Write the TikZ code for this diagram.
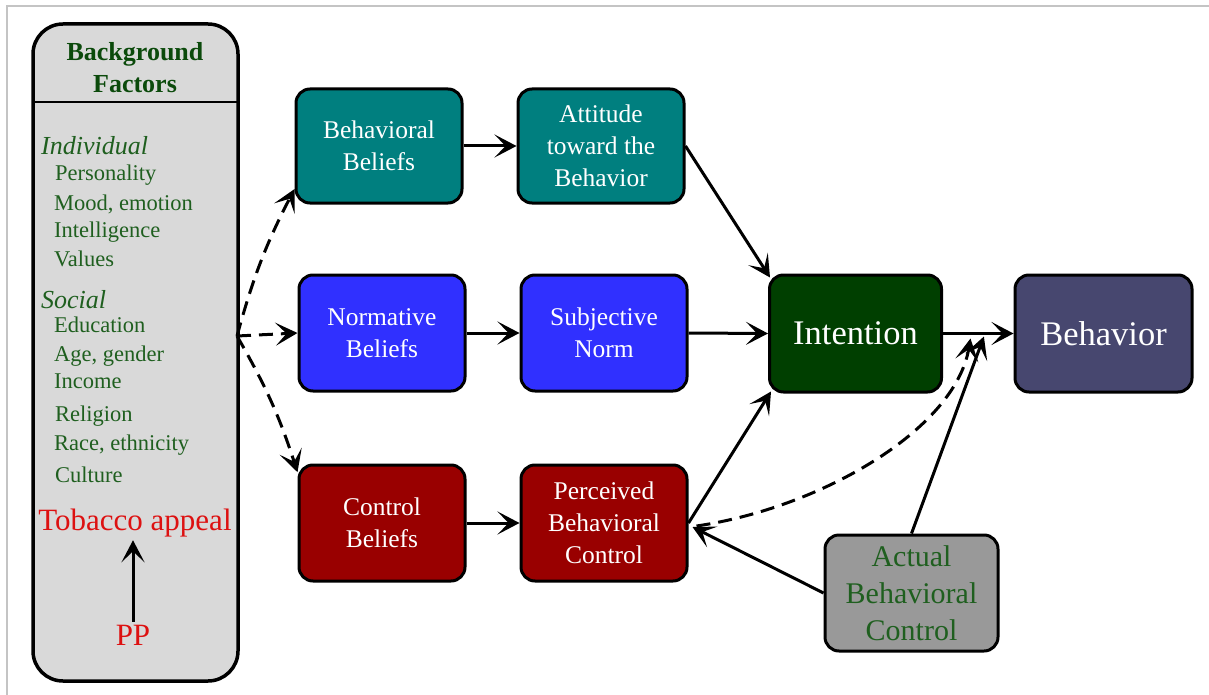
\documentclass[tikz,border=0pt]{standalone}
\usepackage{fontspec}
\setmainfont{Liberation Serif}
\usetikzlibrary{arrows.meta,calc}
\definecolor{cteal}{HTML}{007F7F}
\definecolor{cblue}{HTML}{3030FF}
\definecolor{cred}{HTML}{990000}
\definecolor{cdgreen}{HTML}{003F00}
\definecolor{cbeh}{HTML}{47476F}
\definecolor{cgray}{HTML}{999999}
\definecolor{cbg}{HTML}{D9D9D9}
\definecolor{ctitle}{HTML}{0B4A0B}
\definecolor{citem}{HTML}{1F5F1F}
\definecolor{cappeal}{HTML}{DD1111}
\definecolor{cframe}{HTML}{C4C4C4}
\tikzset{
  box/.style={draw=black, line width=3pt, rounded corners=14pt, text=white,
    align=center, inner sep=0pt, minimum width=166pt, minimum height=114pt,
    font=\fontsize{25.5}{32}\selectfont},
  bigbox/.style={box, minimum width=172pt, minimum height=117pt,
    font=\fontsize{34.5}{38}\selectfont},
  conn/.style={line width=3pt, -{Stealth[length=22pt,width=23pt,inset=11pt]}},
  dconn/.style={conn, dash pattern=on 14pt off 8pt},
  item/.style={anchor=base west, inner sep=0pt, text=citem, font=\fontsize{22.5}{25}\selectfont},
  cat/.style={anchor=base west, inner sep=0pt, text=citem, font=\fontsize{26}{28}\selectfont\itshape},
  redtxt/.style={inner sep=0pt, text=cappeal, font=\fontsize{31}{34}\selectfont}
}
\begin{document}
\begin{tikzpicture}[x=1pt,y=-1pt]
\useasboundingbox (0,0) rectangle (1209,695);
\draw[cframe, line width=1.2pt] (7,695) -- (7,6) -- (1209,6);

% background factors box
\node[draw=black, fill=cbg, line width=3.5pt, rounded corners=30pt,
  minimum width=205pt, minimum height=657pt, inner sep=0pt] (BG) at (135.5,352.5) {};
\coordinate (hl) at (33,102);
\coordinate (hr) at (238,102);
\draw[line width=2pt] (hl) -- (hr);
\node[align=center, inner sep=0pt, text=ctitle, font=\fontsize{26}{32}\selectfont\bfseries] (BGT) at (135,68) {Background\\Factors};
\node[cat] (ind) at (41,155) {Individual};
\node[item] (i1) at (55,181) {Personality};
\node[item] (i2) at (54,210) {Mood, emotion};
\node[item] (i3) at (54,237) {Intelligence};
\node[item] (i4) at (54,266) {Values};
\node[cat] (soc) at (41,308) {Social};
\node[item] (s1) at (54,332) {Education};
\node[item] (s2) at (54,361) {Age, gender};
\node[item] (s3) at (54,388) {Income};
\node[item] (s4) at (55,421) {Religion};
\node[item] (s5) at (54,450) {Race, ethnicity};
\node[item] (s6) at (55,482) {Culture};
\node[redtxt] (TA) at (135,523) {Tobacco appeal};
\node[redtxt] (PP) at (133,635) {PP};
\draw[conn] (PP.north) ++(0,-3) -- ([yshift=-3pt]TA.south -| PP.north);

% main nodes
\node[box, fill=cteal] (BB) at (379,146) {Behavioral\\Beliefs};
\node[box, fill=cteal] (AT) at (601,146) {Attitude\\toward the\\Behavior};
\node[box, fill=cblue, minimum height=116pt] (NB) at (382,333) {Normative\\Beliefs};
\node[box, fill=cblue, minimum height=116pt] (SN) at (604,333) {Subjective\\Norm};
\node[box, fill=cred, minimum height=116pt] (CB) at (382,523) {Control\\Beliefs};
\node[box, fill=cred, minimum height=116pt] (PBC) at (604,523) {Perceived\\Behavioral\\Control};
\node[bigbox, fill=cdgreen] (INT) at (855.5,333.5) {Intention};
\node[bigbox, fill=cbeh, minimum width=177pt] (BEH) at (1103.5,333.5) {Behavior};
\node[box, fill=cgray, text=citem, minimum width=173pt, minimum height=116pt,
  font=\fontsize{30}{37}\selectfont] (ABC) at (911.5,593) {Actual\\Behavioral\\Control};

% connectors
\coordinate (src) at (237,336);
\draw[dconn] (src) to[bend left=6] (BB.207);
\draw[dconn] (src) -- (NB.west);
\draw[dconn] (src) to[bend left=6] (CB.149);
\draw[conn] (BB.east) -- (AT.west);
\draw[conn] (NB.east) -- (SN.west);
\draw[conn] (CB.east) -- (PBC.west);
\draw[conn] (AT.east) -- ([shift={(2,4)}]INT.north west);
\draw[conn] (SN.east) -- (INT.west);
\draw[conn] (PBC.east) -- ([shift={(3,-2)}]INT.south west);
\draw[conn] (INT.east) -- (BEH.west);
\coordinate (ja) at ($(INT.east)!0.39!(BEH.west)+(0,5)$);
\coordinate (jb) at ($(INT.east)!0.58!(BEH.west)+(0,3)$);
\draw[dconn] ([yshift=-3pt]PBC.east) ++(8,0) .. controls (820,508) and (955,430) .. (ja);
\draw[conn] (ABC.north) -- (jb);
\draw[conn] (ABC.west) -- ([shift={(4,4)}]PBC.east);
\end{tikzpicture}
\end{document}
